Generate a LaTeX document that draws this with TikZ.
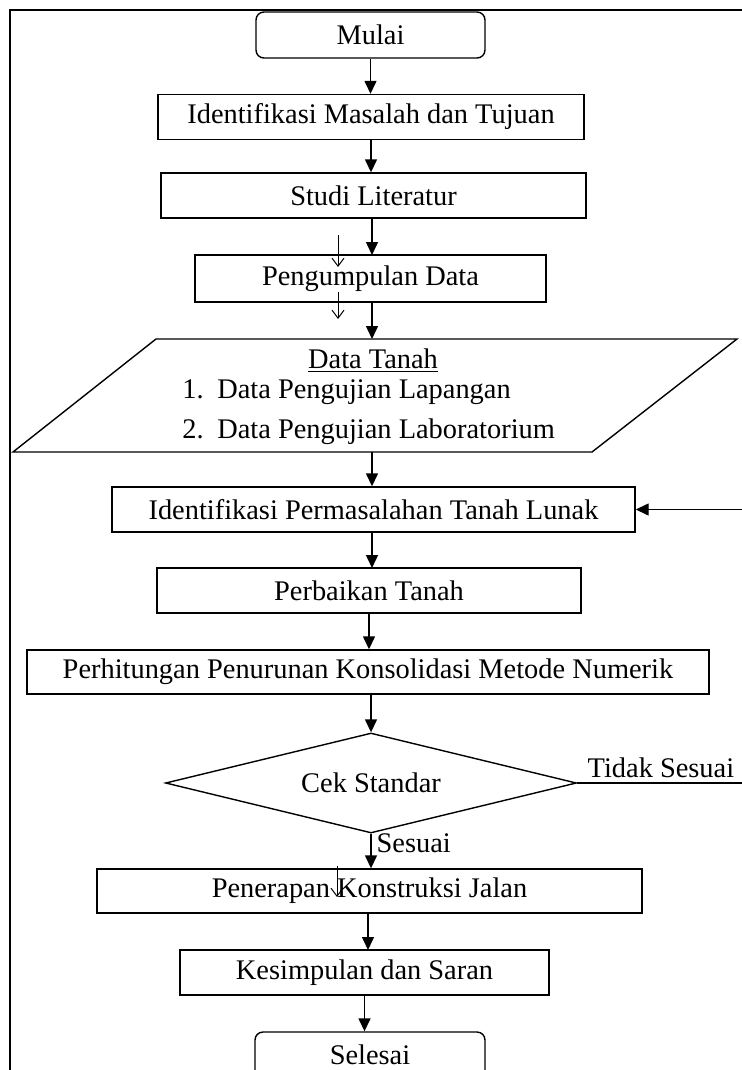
\documentclass[tikz,border=0pt]{standalone}
\usepackage{fontspec}
\setmainfont{Liberation Serif}
\usetikzlibrary{arrows.meta,shapes.geometric}

\begin{document}
\begin{tikzpicture}[x=0.5pt, y=-0.5pt, line width=0.7pt,
    every node/.style={font=\fontsize{14.2}{17}\selectfont},
    box/.style={draw, rectangle, inner sep=0pt, minimum height=22.5pt},
    term/.style={box, rounded corners=4pt, minimum height=23pt},
    flow/.style={-{Triangle[length=6.5pt,width=6pt]}},
    stray/.style={line width=0.5pt, -{Straight Barb[length=4pt,width=6pt]}}]
    \useasboundingbox (0,0) rectangle (741,1070);
    % bingkai
    \draw (750,10) -- (10,10) -- (10,1085);

    \node [term, minimum width=114.5pt] (mulai) at (370.5,35) {Mulai};
    \node [box, minimum width=213pt] (idm) at (371,117) {Identifikasi Masalah dan Tujuan};
    \node [box, minimum width=212.5pt] (studi) at (373.5,195.5) {Studi Literatur};
    \node [box, minimum width=175.5pt, minimum height=23.5pt] (kumpul) at (370.5,278.5) {Pengumpulan Data};

    % data tanah
    \coordinate (dtop) at (372,339);
    \coordinate (dbot) at (372,452);
    \draw (156,339) -- (737,339) -- (592,452) -- (13,452) -- cycle;
    \node (data) at (373,361) {\underline{Data Tanah}};
    \node [anchor=base west] (lap) at (175,398) {\makebox[17.5pt][l]{1.}Data Pengujian Lapangan};
    \node [anchor=base west] (lab) at (175,438) {\makebox[17.5pt][l]{2.}Data Pengujian Laboratorium};

    \node [box, minimum width=261.5pt] (idp) at (373.5,509.5) {Identifikasi Permasalahan Tanah Lunak};
    \node [box, minimum width=212pt] (baik) at (369,590.5) {Perbaikan Tanah};
    \node [box, minimum width=341pt, minimum height=22pt] (hitung) at (368,672) {Perhitungan Penurunan Konsolidasi Metode Numerik};
    \node [draw, diamond, aspect=4.11, inner sep=0pt, minimum width=205.5pt, minimum height=50pt] (cek) at (371,783) {Cek Standar};
    \node [box, minimum width=272.5pt, minimum height=22pt] (terap) at (369.5,891) {Penerapan Konstruksi Jalan};
    \node [box, minimum width=184.5pt] (simpul) at (364.5,972.5) {Kesimpulan dan Saran};
    \node [term, minimum width=115pt] (selesai) at (370,1055) {Selesai};

    \draw [flow] (mulai.south) -- (mulai.south |- idm.north);
    \draw [flow] (idm.south) -- (idm.south |- studi.north);
    \draw [flow] (372,218) -- (372,255);
    \draw [flow] (dtop |- kumpul.south) -- (dtop);
    \draw [flow] (dbot) -- (dbot |- idp.north);
    \draw [flow] (372,532) -- (372,568);
    \draw [flow] (baik.south) -- (baik.south |- hitung.north);
    \draw [flow] (cek.north |- hitung.south) -- (cek.north);
    \draw [flow] (cek.south) -- (cek.south |- terap.north);
    \node [anchor=base west, inner sep=0pt] (sesuai) at (376,852) {Sesuai};
    \draw [flow] (368,913) -- (368,950);
    \draw [flow] (simpul.south) -- (simpul.south |- selesai.north);

    % kembali
    \coordinate (balik) at (748,783);
    \draw [flow] (cek.east) -- (balik) -- (balik |- idp.east) -- (idp.east);
    \node [anchor=base west, inner sep=0pt] (tidak) at (587,777) {Tidak Sesuai};

    % panah kecil
    \coordinate (s1) at (338,235);
    \coordinate (s2) at (338,292);
    \coordinate (s3) at (337,866);
    \draw [stray] (s1) -- ++(0,32);
    \draw [stray] (s2) -- ++(0,27);
    \draw [stray] (s3) -- ++(0,31);
\end{tikzpicture}
\end{document}
